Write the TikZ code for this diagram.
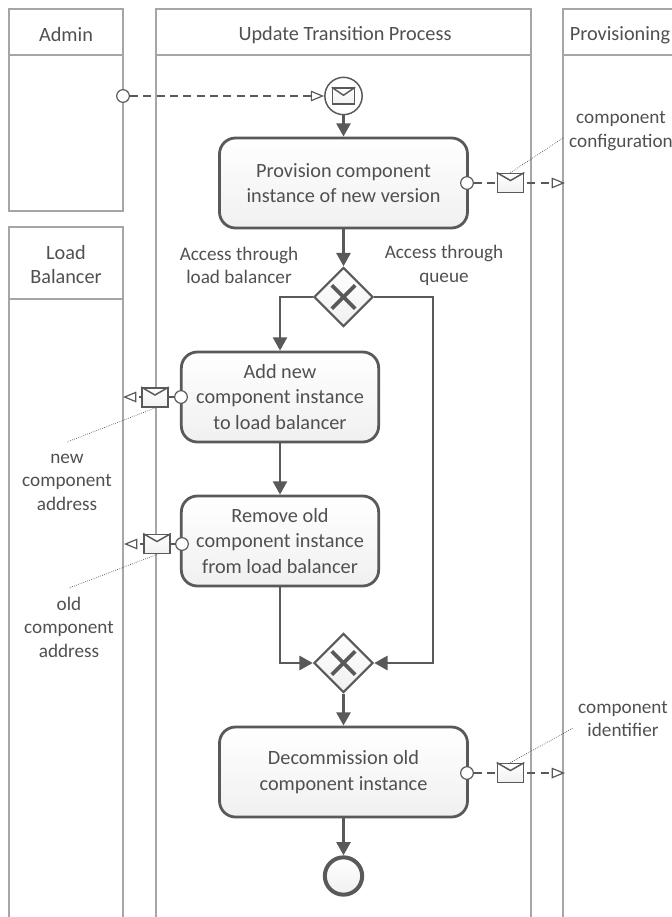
\documentclass[tikz,border=0pt]{standalone}
\usepackage{fontspec}
\setmainfont{Carlito}
\usetikzlibrary{arrows.meta,shapes.geometric}
\definecolor{lanegray}{HTML}{A6A6A6}
\definecolor{flowgray}{HTML}{595959}
\definecolor{fillgray}{HTML}{F0F0F0}
\definecolor{inkgray}{HTML}{505050}
\tikzset{
    lane/.style={draw=lanegray, line width=2.1pt},
    lanehead/.style={text=inkgray, align=center, font=\fontsize{15.2}{18}\selectfont},
    lanetext/.style={text=inkgray, align=center, font=\fontsize{14.4}{17.6}\selectfont},
    task/.style={draw=flowgray, line width=2.1pt, rounded corners=12pt, top color=white, bottom color=fillgray, minimum width=186pt, minimum height=67.5pt, align=center, text=inkgray, font=\fontsize{15.2}{19}\selectfont},
    gateway/.style={draw=flowgray, line width=1.6pt, diamond, aspect=1, inner sep=0pt, minimum width=44.5pt, minimum height=44.5pt, top color=white, bottom color=fillgray},
    flow/.style={draw=flowgray, line width=2.1pt, -{Triangle[length=10pt, width=10.5pt]}},
    msgflow/.style={draw=flowgray, line width=0.9pt, dash pattern=on 6pt off 4pt, -{Triangle[open, length=10pt, width=8pt]}},
    port/.style={circle, draw=flowgray, line width=0.9pt, fill=white, inner sep=0pt, minimum size=9.5pt},
    letter/.style={draw=flowgray, line width=1.3pt, top color=white, bottom color=fillgray, inner sep=0pt, minimum width=19.5pt, minimum height=14.4pt},
    note/.style={draw=black!75, line width=0.5pt, densely dotted},
}
\newcommand{\crossmark}[1]{
    \draw[flowgray, line width=2.7pt] ([shift={(-8.8pt,-8.8pt)}]#1.center) -- ([shift={(8.8pt,8.8pt)}]#1.center);
    \draw[flowgray, line width=2.7pt] ([shift={(-8.8pt,8.8pt)}]#1.center) -- ([shift={(8.8pt,-8.8pt)}]#1.center);
}
\newcommand{\flapmark}[1]{
    \draw[flowgray, line width=1.1pt] (#1.north west) -- ([yshift=-6pt]#1.north) -- (#1.north east);
}
\begin{document}
\begin{tikzpicture}[x=0.75pt, y=-0.75pt]
    \useasboundingbox (0,0) rectangle (671,917);
    % lanes
    \draw[lane] (9,917) -- (9,227) -- (123,227) -- (123,917);
    \draw[lane] (9,299) -- (123,299);
    \draw[lane] (9,9) rectangle (123,211);
    \draw[lane] (9,55) -- (123,55);
    \draw[lane] (156,917) -- (156,9) -- (531,9) -- (531,917);
    \draw[lane] (156,55) -- (531,55);
    \draw[lane] (563,917) -- (563,9) -- (680,9);
    \draw[lane] (563,55) -- (680,55);
    \node[lanehead] (admin) at (66,35) {Admin};
    \node[lanehead] (balancer) at (66,265) {Load\\Balancer};
    \node[lanehead] (update) at (345,35) {Update Transition Process};
    \node[lanehead] (provisioning) at (620,35) {Provisioning};

    % process
    \node[circle, draw=flowgray, line width=1.1pt, fill=white, minimum size=28pt, inner sep=0pt] (start) at (343.5,96) {};
    \node[letter, line width=1.1pt, minimum width=16.5pt, minimum height=12pt] (startletter) at (343.5,96) {};
    \flapmark{startletter}
    \node[task] (provision) at (343.5,183) {Provision component\\instance of new version};
    \node[gateway] (split) at (343.5,297) {};
    \crossmark{split}
    \node[task, minimum width=148pt] (addnew) at (280,397) {Add new\\component instance\\to load balancer};
    \node[task, minimum width=148pt] (removeold) at (280,541) {Remove old\\component instance\\from load balancer};
    \node[gateway] (join) at (343.5,663) {};
    \crossmark{join}
    \node[task] (decommission) at (343.5,772) {Decommission old\\component instance};
    \node[circle, draw=flowgray, line width=3pt, top color=white, bottom color=fillgray, minimum size=28pt, inner sep=0pt] (finish) at (343.5,876) {};
    \node[lanetext] (viabalancer) at (239,265.5) {Access through\\load balancer};
    \node[lanetext] (viaqueue) at (444,265.5) {Access through\\queue};

    \draw[flow] (start) -- (provision);
    \draw[flow] (provision) -- (split);
    \draw[flow] (split.west) -| (addnew.north);
    \draw[flow] (addnew) -- (removeold);
    \draw[flow] (split.east) -- (433,297) |- (join.east);
    \draw[flow] (removeold.south) |- (join.west);
    \draw[flow] (join) -- (decommission);
    \draw[flow] (decommission) -- (finish);

    % messages
    \node[port] (adminport) at (123,96) {};
    \draw[msgflow] (adminport) -- (start);

    \coordinate (provisionin) at (565,183);
    \coordinate (balancerin) at (123,397);
    \coordinate (balancerold) at (124,544);
    \coordinate (provisionout) at (565,773);

    \node[port] (provisionport) at (467,183) {};
    \node[port] (addport) at (181,397) {};
    \node[port] (removeport) at (182,544) {};
    \node[port] (decommissionport) at (467,773) {};

    \draw[msgflow] (provisionport) -- (provisionin);
    \draw[msgflow] (addport) -- (balancerin);
    \draw[msgflow] (removeport) -- (balancerold);
    \draw[msgflow] (decommissionport) -- (provisionout);

    \node[letter] (configletter) at (510.5,183) {};
    \flapmark{configletter}
    \node[letter] (newletter) at (155,397.5) {};
    \flapmark{newletter}
    \node[letter] (oldletter) at (157,544) {};
    \flapmark{oldletter}
    \node[letter] (idletter) at (510.5,773) {};
    \flapmark{idletter}

    % data labels
    \node[lanetext] (configlabel) at (621,131) {component\\configuration};
    \node[lanetext] (newlabel) at (67,482) {new\\component\\address};
    \node[lanetext] (oldlabel) at (69,627) {old\\component\\address};
    \node[lanetext] (idlabel) at (623,719) {component\\identifier};
    \coordinate (confignote) at (563,138);
    \coordinate (newnote) at (67,442);
    \coordinate (oldnote) at (69,588);
    \coordinate (idnote) at (573,728);
    \draw[note] (configletter.north) -- (confignote);
    \draw[note] (newletter.south) -- (newnote);
    \draw[note] (oldletter.south) -- (oldnote);
    \draw[note] (idletter.north) -- (idnote);
\end{tikzpicture}
\end{document}
